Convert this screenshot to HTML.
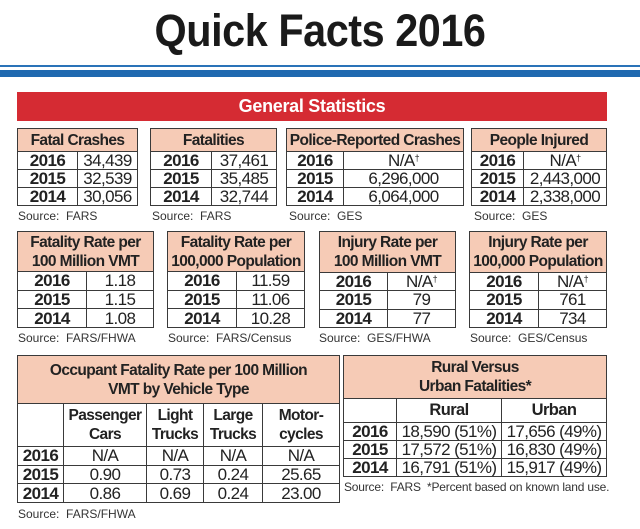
<!DOCTYPE html>
<html><head><meta charset="utf-8"><style>
body{margin:0;width:640px;height:529px;background:#fff;position:relative;overflow:hidden;font-family:"Liberation Sans",sans-serif;color:#222}
.t{position:absolute;border-collapse:collapse;table-layout:fixed}
.t td{border:1.5px solid #3a3a3a;padding:0;text-align:center;line-height:1;font-size:17px;letter-spacing:-0.6px;white-space:nowrap;overflow:hidden}
.t td.h{background:#f6cbb6;font-weight:bold;font-size:15.5px;letter-spacing:-0.6px;line-height:19px}
.t td.y{font-weight:bold}
.s{position:absolute;font-size:12px;color:#333;white-space:nowrap}
sup{font-size:9px;vertical-align:5px;line-height:0}
</style></head><body>
<div style="position:absolute;left:0;width:640px;top:5px;text-align:center;font-size:45px;font-weight:bold;color:#1a1a1a;letter-spacing:-0.5px;transform:scaleX(0.92)">Quick Facts 2016</div>
<div style="position:absolute;left:0;width:640px;top:65px;height:2px;background:#2a73b8"></div>
<div style="position:absolute;left:0;width:640px;top:70px;height:7px;background:#1f69b0"></div>
<div style="position:absolute;left:17px;width:590px;top:92px;height:29px;background:#d52b33;color:#fff;font-weight:bold;font-size:18px;line-height:29px;text-align:center;letter-spacing:-0.3px">General Statistics</div>

<table class="t" style="left:17px;top:128px;width:121px;height:78px"><colgroup><col style="width:60px"><col></colgroup>
<tr style="height:23px"><td class="h" colspan="2">Fatal Crashes</td></tr>
<tr><td class="y">2016</td><td>34,439</td></tr><tr><td class="y">2015</td><td>32,539</td></tr><tr><td class="y">2014</td><td>30,056</td></tr></table>
<div class="s" style="left:18px;top:209px">Source:&nbsp; FARS</div>

<table class="t" style="left:150px;top:128px;width:127px;height:78px"><colgroup><col style="width:61px"><col></colgroup>
<tr style="height:23px"><td class="h" colspan="2">Fatalities</td></tr>
<tr><td class="y">2016</td><td>37,461</td></tr><tr><td class="y">2015</td><td>35,485</td></tr><tr><td class="y">2014</td><td>32,744</td></tr></table>
<div class="s" style="left:152px;top:209px">Source:&nbsp; FARS</div>

<table class="t" style="left:286px;top:128px;width:178px;height:78px"><colgroup><col style="width:57px"><col></colgroup>
<tr style="height:23px"><td class="h" colspan="2">Police-Reported Crashes</td></tr>
<tr><td class="y">2016</td><td>N/A<sup>†</sup></td></tr><tr><td class="y">2015</td><td>6,296,000</td></tr><tr><td class="y">2014</td><td>6,064,000</td></tr></table>
<div class="s" style="left:289px;top:209px">Source:&nbsp; GES</div>

<table class="t" style="left:471px;top:128px;width:136px;height:78px"><colgroup><col style="width:52px"><col></colgroup>
<tr style="height:23px"><td class="h" colspan="2">People Injured</td></tr>
<tr><td class="y">2016</td><td>N/A<sup>†</sup></td></tr><tr><td class="y">2015</td><td>2,443,000</td></tr><tr><td class="y">2014</td><td>2,338,000</td></tr></table>
<div class="s" style="left:474px;top:209px">Source:&nbsp; GES</div>

<table class="t" style="left:17px;top:231px;width:137px;height:97px"><colgroup><col style="width:69px"><col></colgroup>
<tr style="height:40px"><td class="h" colspan="2">Fatality Rate per<br>100 Million VMT</td></tr>
<tr><td class="y">2016</td><td>1.18</td></tr><tr><td class="y">2015</td><td>1.15</td></tr><tr><td class="y">2014</td><td>1.08</td></tr></table>
<div class="s" style="left:18px;top:331px">Source:&nbsp; FARS/FHWA</div>

<table class="t" style="left:167px;top:231px;width:138px;height:97px"><colgroup><col style="width:69px"><col></colgroup>
<tr style="height:40px"><td class="h" colspan="2">Fatality Rate per<br>100,000 Population</td></tr>
<tr><td class="y">2016</td><td>11.59</td></tr><tr><td class="y">2015</td><td>11.06</td></tr><tr><td class="y">2014</td><td>10.28</td></tr></table>
<div class="s" style="left:168px;top:331px">Source:&nbsp; FARS/Census</div>

<table class="t" style="left:319px;top:231px;width:137px;height:97px"><colgroup><col style="width:68px"><col></colgroup>
<tr style="height:41px"><td class="h" colspan="2">Injury Rate per<br>100 Million VMT</td></tr>
<tr><td class="y">2016</td><td>N/A<sup>†</sup></td></tr><tr><td class="y">2015</td><td>79</td></tr><tr><td class="y">2014</td><td>77</td></tr></table>
<div class="s" style="left:319px;top:331px">Source:&nbsp; GES/FHWA</div>

<table class="t" style="left:469px;top:231px;width:138px;height:97px"><colgroup><col style="width:69px"><col></colgroup>
<tr style="height:41px"><td class="h" colspan="2">Injury Rate per<br>100,000 Population</td></tr>
<tr><td class="y">2016</td><td>N/A<sup>†</sup></td></tr><tr><td class="y">2015</td><td>761</td></tr><tr><td class="y">2014</td><td>734</td></tr></table>
<div class="s" style="left:470px;top:331px">Source:&nbsp; GES/Census</div>

<table class="t" style="left:17px;top:355px;width:323px;height:148px"><colgroup><col style="width:46px"><col style="width:83px"><col style="width:57px"><col style="width:59px"><col></colgroup>
<tr style="height:48px"><td class="h" colspan="5">Occupant Fatality Rate per 100 Million<br>VMT by Vehicle Type</td></tr>
<tr style="height:43px"><td></td><td class="h" style="background:#fff">Passenger<br>Cars</td><td class="h" style="background:#fff">Light<br>Trucks</td><td class="h" style="background:#fff">Large<br>Trucks</td><td class="h" style="background:#fff">Motor-<br>cycles</td></tr>
<tr><td class="y">2016</td><td>N/A</td><td>N/A</td><td>N/A</td><td>N/A</td></tr>
<tr><td class="y">2015</td><td>0.90</td><td>0.73</td><td>0.24</td><td>25.65</td></tr>
<tr><td class="y">2014</td><td>0.86</td><td>0.69</td><td>0.24</td><td>23.00</td></tr></table>
<div class="s" style="left:18px;top:507px">Source:&nbsp; FARS/FHWA</div>

<table class="t" style="left:343px;top:355px;width:264px;height:122px"><colgroup><col style="width:53px"><col style="width:105px"><col></colgroup>
<tr style="height:43px"><td class="h" colspan="3">Rural Versus<br>Urban Fatalities*</td></tr>
<tr style="height:24px"><td></td><td class="h" style="background:#fff;font-size:16.5px">Rural</td><td class="h" style="background:#fff;font-size:16.5px">Urban</td></tr>
<tr><td class="y">2016</td><td>18,590 (51%)</td><td>17,656 (49%)</td></tr>
<tr><td class="y">2015</td><td>17,572 (51%)</td><td>16,830 (49%)</td></tr>
<tr><td class="y">2014</td><td>16,791 (51%)</td><td>15,917 (49%)</td></tr></table>
<div class="s" style="left:344px;top:480px;letter-spacing:-0.2px">Source:&nbsp; FARS&nbsp; *Percent based on known land use.</div>
</body></html>
